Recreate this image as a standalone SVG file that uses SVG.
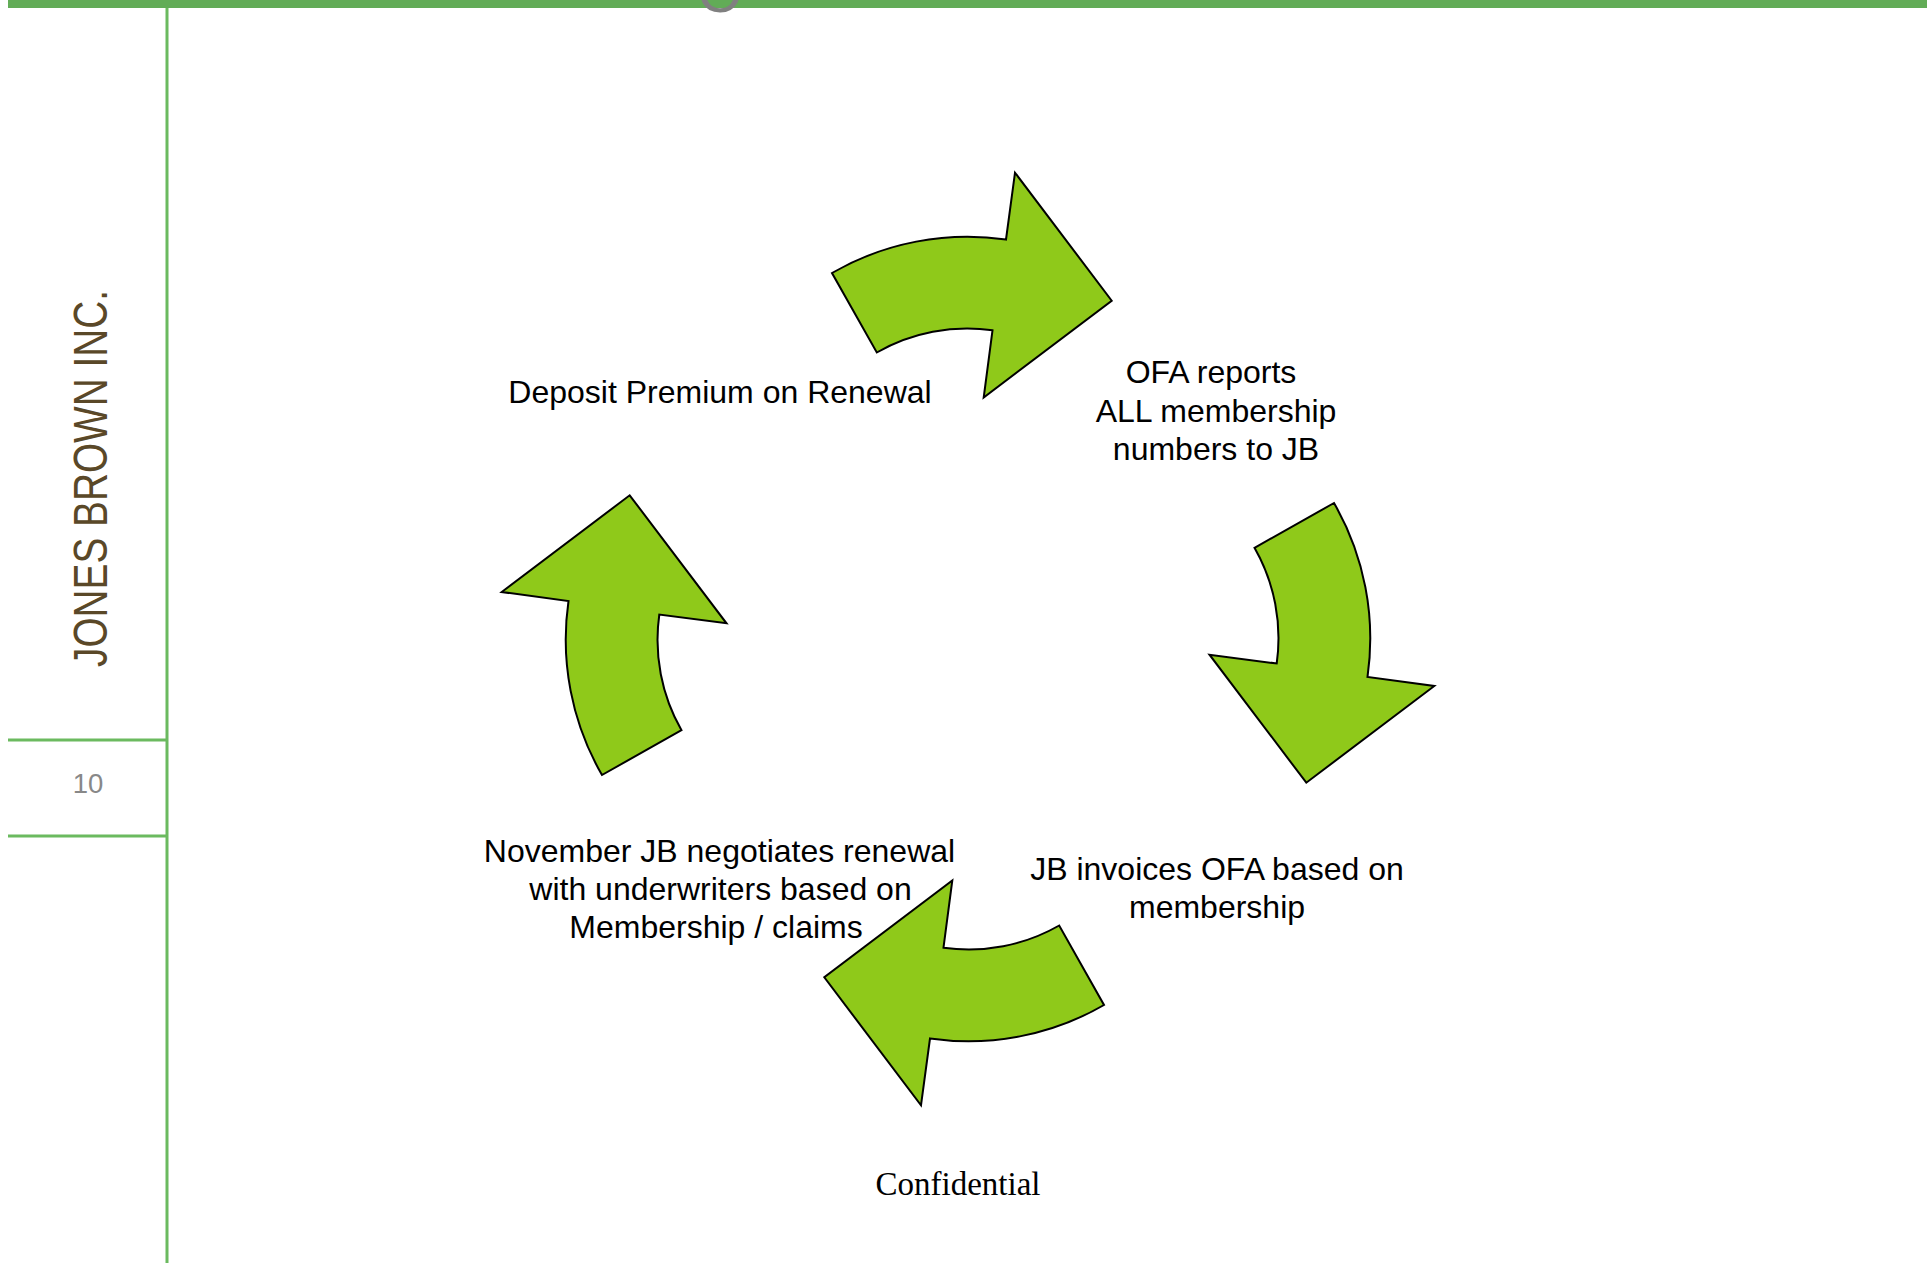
<svg xmlns="http://www.w3.org/2000/svg" xmlns:xlink="http://www.w3.org/1999/xlink" width="1927" height="1263" viewBox="0 0 1927 1263">
<style>
.lbl{font-family:"Liberation Sans",Arial,sans-serif;font-size:32px;fill:#000;text-anchor:middle}
.arrow{fill:#8FC91A;stroke:#000;stroke-width:2;stroke-linejoin:miter}
.rule{stroke:#6BBA5F;stroke-width:3;fill:none}
</style>
<defs>
<path id="arrowShape" class="arrow" d="M 832 273 A 271 271 0 0 1 1006 239.5 L 1015 172.7 L 1111.7 300.7 L 983.7 397.5 L 992.5 330.3 A 182 182 0 0 0 876.8 352.5 Z"/>
</defs>
<rect x="0" y="0" width="1927" height="1263" fill="#fff"/>
<g id="frame">
<rect x="8" y="0" width="1919" height="8" fill="#62AC57"/>
<text x="720" y="12" font-family="Liberation Sans, Arial, sans-serif" font-size="58" fill="#808080" text-anchor="middle">O</text>
<line class="rule" x1="167" y1="8" x2="167" y2="1263"/>
<line class="rule" x1="8" y1="740" x2="167" y2="740"/>
<line class="rule" x1="8" y1="836" x2="167" y2="836"/>
<text transform="translate(107,667) rotate(-90)" x="0" y="0" font-family="Liberation Sans, Arial, sans-serif" font-size="48" fill="#5A4828" textLength="377" lengthAdjust="spacingAndGlyphs">JONES BROWN INC.</text>
<text x="88" y="793" font-family="Liberation Sans, Arial, sans-serif" font-size="27.5" fill="#888" text-anchor="middle">10</text>
<text x="958" y="1195" font-family="Liberation Serif, Times New Roman, serif" font-size="33" fill="#000" text-anchor="middle">Confidential</text>
</g>
<g id="connectors">
<use id="arrow-top" xlink:href="#arrowShape" href="#arrowShape"/>
<use id="arrow-right" xlink:href="#arrowShape" href="#arrowShape" transform="rotate(90 968 639)"/>
<use id="arrow-bottom" xlink:href="#arrowShape" href="#arrowShape" transform="rotate(180 968 639)"/>
<use id="arrow-left" xlink:href="#arrowShape" href="#arrowShape" transform="rotate(270 968 639)"/>
</g>
<g id="node-deposit">
<text class="lbl" x="720" y="403">Deposit Premium on Renewal</text>
</g>
<g id="node-ofa">
<text class="lbl" x="1211" y="383">OFA reports</text>
<text class="lbl" x="1216" y="421.5">ALL membership</text>
<text class="lbl" x="1216" y="460">numbers to JB</text>
</g>
<g id="node-invoice">
<text class="lbl" x="1217" y="880">JB invoices OFA based on</text>
<text class="lbl" x="1217" y="918">membership</text>
</g>
<g id="node-negotiate">
<text class="lbl" x="719.5" y="862">November JB negotiates renewal</text>
<text class="lbl" x="720.5" y="900">with underwriters based on</text>
<text class="lbl" x="716" y="938">Membership / claims</text>
</g>
</svg>
